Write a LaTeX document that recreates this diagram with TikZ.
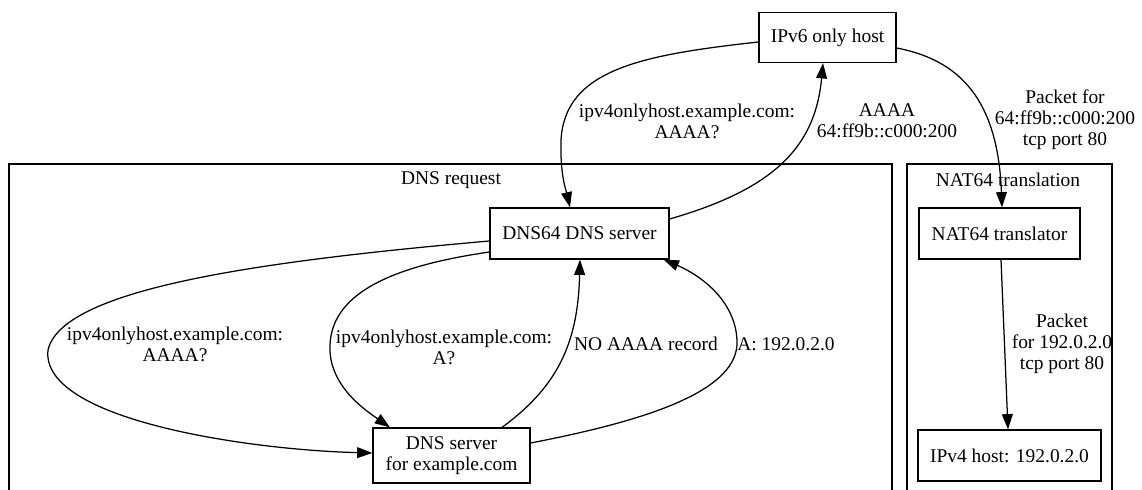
\documentclass[tikz,border=0pt]{standalone}
\usepackage{fontspec}
\setmainfont{Liberation Serif}
\usetikzlibrary{arrows.meta,calc}
\begin{document}
\begin{tikzpicture}[x=0.72pt,y=-0.72pt,
  txt/.style={font=\fontsize{14}{15}\selectfont},
  box/.style={draw, line width=0.9pt, inner sep=0pt, align=center, txt},
  lbl/.style={inner sep=0pt, align=center, txt},
  cluster/.style={draw, line width=0.9pt},
  conn/.style={line width=0.9pt, -{Triangle[length=11pt,width=7.8pt]}}]
\useasboundingbox (0,0) rectangle (1142,490);
\clip (0,0) rectangle (1142,490);
% clusters
\draw[cluster] (9,164) rectangle (892,500);
\draw[cluster] (907,164) rectangle (1112,500);
\node[lbl] (cl1) at (451,180) {DNS request};
\node[lbl] (cl2) at (1008,180) {NAT64 translation};
% nodes
\node[box, minimum width=98.6pt, minimum height=36pt] (ipv6) at (827.5,37.5) {IPv6 only host};
\node[box, minimum width=128.9pt, minimum height=36.7pt] (dns64) at (579.5,233.5) {DNS64 DNS server};
\node[box, minimum width=113pt, minimum height=39.6pt] (dnssrv) at (451.5,455.5) {DNS server\\for example.com};
\node[box, minimum width=115.9pt, minimum height=36.7pt] (nat) at (999.5,233.5) {NAT64 translator};
\node[box, minimum width=131.8pt, minimum height=36.7pt] (ipv4) at (1009.5,455.5) {IPv4 host: 192.0.2.0};
% edges
\draw[conn] ($(ipv6.west)+(0,4.5)$) .. controls (640,55) and (565,70) .. (561,140)
   .. controls (560,175) and (566,190) .. ($(dns64.north)+(-9.5,0)$);
\draw[conn] ($(dns64.east)+(0,-14.5)$) .. controls (770,190) and (815,150) .. ($(ipv6.south)+(-4.5,0)$);
\draw[conn] ($(ipv6.east)+(0,10.5)$) .. controls (960,60) and (998,100) .. ($(nat.north)+(2.5,0)$);
\draw[conn] ($(nat.south)+(1.5,0)$) -- ($(ipv4.north)+(-1.5,0)$);
\draw[conn] ($(dns64.west)+(0,7.5)$) .. controls (250,262) and (62,290) .. (48,350)
   .. controls (40,420) and (250,450) .. ($(dnssrv.west)+(0,-2.5)$);
\draw[conn] ($(dns64.west)+(0,18.5)$) .. controls (400,265) and (332,290) .. (330,345)
   .. controls (328,385) and (365,410) .. ($(dnssrv.north)+(-61.5,0)$);
\draw[conn] ($(dnssrv.north)+(50.5,0)$) .. controls (560,385) and (578,340) .. ($(dns64.south)+(0.5,0)$);
\draw[conn] ($(dnssrv.east)+(0,-12.5)$) .. controls (650,420) and (740,390) .. (737,340)
   .. controls (735,300) and (700,275) .. ($(dns64.south east)+(-6,0)$);
% labels
\node[lbl] (l1) at (687,121) {ipv4onlyhost.example.com:\\AAAA?};
\node[lbl] (l2) at (887,121) {AAAA\\64:ff9b::c000:200};
\node[lbl] (l3) at (1065,120) {Packet for\\64:ff9b::c000:200\\tcp port 80};
\node[lbl] (l4) at (175,344) {ipv4onlyhost.example.com:\\AAAA?};
\node[lbl] (l5) at (444,347) {ipv4onlyhost.example.com:\\A?};
\node[lbl] (l6) at (646,344) {NO AAAA record};
\node[lbl] (l7) at (786,344) {A: 192.0.2.0};
\node[lbl] (l8) at (1062,344) {Packet\\for 192.0.2.0\\tcp port 80};
\end{tikzpicture}
\end{document}
